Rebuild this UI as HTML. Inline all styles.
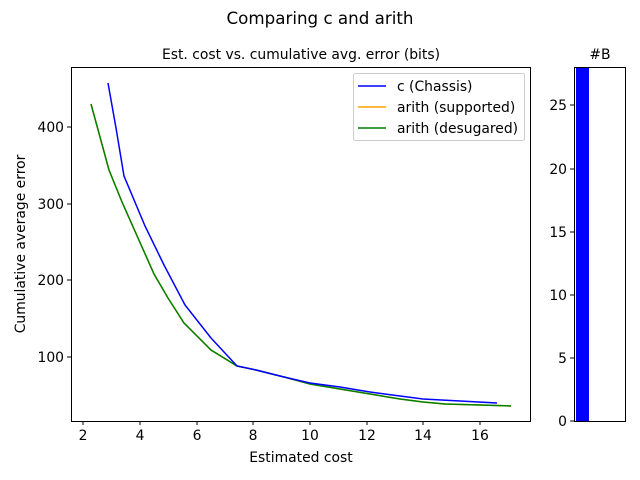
<!DOCTYPE html>
<html><head><style>body{margin:0;background:#fff}svg{display:block}</style></head><body>
<svg width="640" height="480" xmlns="http://www.w3.org/2000/svg" font-family="DejaVu Sans, Liberation Sans, sans-serif" font-size="13.9px">
<text x="320" y="24" text-anchor="middle" font-size="16.7px">Comparing c and arith</text>
<text x="301" y="59" text-anchor="middle" font-size="13.9px">Est. cost vs. cumulative avg. error (bits)</text>
<text x="600" y="59" text-anchor="middle" font-size="13.9px">#B</text>
<polyline fill="none" stroke="#ffa500" stroke-width="1.5" points="91,104 109,170 122,202 138,238 154,274 168,298 184,323 211,350 237,366 256,370 284,377 310,384 340,389 370,394 400,399 423,402 445,404 480,405 511,406"/>
<polyline fill="none" stroke="#008000" stroke-width="1.5" points="91,104 109,170 122,202 138,238 154,274 168,298 184,323 211,350 237,366 256,370 284,377 310,384 340,389 370,394 400,399 423,402 445,404 480,405 511,406"/>
<polyline fill="none" stroke="#0000ff" stroke-width="1.5" points="108,83 116,128 124,176 145,226 164,265 185,305 211,338 237,366 256,370 284,377 310,383 340,387 370,392 400,396 423,399 460,401 497,403"/>
<rect x="71.5" y="67.5" width="459" height="354" fill="none" stroke="#000" stroke-width="1"/>
<g stroke="#000">
<line x1="83" y1="421" x2="83" y2="425"/><line x1="140" y1="421" x2="140" y2="425"/><line x1="197" y1="421" x2="197" y2="425"/><line x1="253" y1="421" x2="253" y2="425"/><line x1="310" y1="421" x2="310" y2="425"/><line x1="367" y1="421" x2="367" y2="425"/><line x1="423" y1="421" x2="423" y2="425"/><line x1="480" y1="421" x2="480" y2="425"/>
<line x1="67" y1="127" x2="71" y2="127"/><line x1="67" y1="204" x2="71" y2="204"/><line x1="67" y1="280" x2="71" y2="280"/><line x1="67" y1="357" x2="71" y2="357"/>
</g>
<g text-anchor="middle">
<text x="83" y="440">2</text><text x="140" y="440">4</text><text x="197" y="440">6</text><text x="253" y="440">8</text><text x="310" y="440">10</text><text x="367" y="440">12</text><text x="423" y="440">14</text><text x="480" y="440">16</text>
</g>
<g text-anchor="end">
<text x="64" y="132">400</text><text x="64" y="209">300</text><text x="64" y="285">200</text><text x="64" y="362">100</text>
</g>
<text x="301" y="462" text-anchor="middle">Estimated cost</text>
<text transform="translate(25,244) rotate(-90)" text-anchor="middle">Cumulative average error</text>
<rect x="353.5" y="73.5" width="171" height="67" rx="2" fill="#fff" stroke="#ccc"/>
<line x1="358" y1="86" x2="386" y2="86" stroke="#0000ff" stroke-width="1.5"/><text x="397" y="91">c (Chassis)</text>
<line x1="358" y1="107" x2="386" y2="107" stroke="#ffa500" stroke-width="1.5"/><text x="397" y="112">arith (supported)</text>
<line x1="358" y1="128" x2="386" y2="128" stroke="#008000" stroke-width="1.5"/><text x="397" y="133">arith (desugared)</text>
<rect x="576" y="67" width="13" height="354" fill="#0000ff"/>
<rect x="574.5" y="67.5" width="51" height="354" fill="none" stroke="#000"/>
<g stroke="#000">
<line x1="570" y1="421" x2="574" y2="421"/><line x1="570" y1="358" x2="574" y2="358"/><line x1="570" y1="295" x2="574" y2="295"/><line x1="570" y1="232" x2="574" y2="232"/><line x1="570" y1="169" x2="574" y2="169"/><line x1="570" y1="105" x2="574" y2="105"/>
</g>
<g text-anchor="end">
<text x="567" y="426">0</text><text x="567" y="363">5</text><text x="567" y="300">10</text><text x="567" y="237">15</text><text x="567" y="174">20</text><text x="567" y="110">25</text>
</g>
</svg>
</body></html>
